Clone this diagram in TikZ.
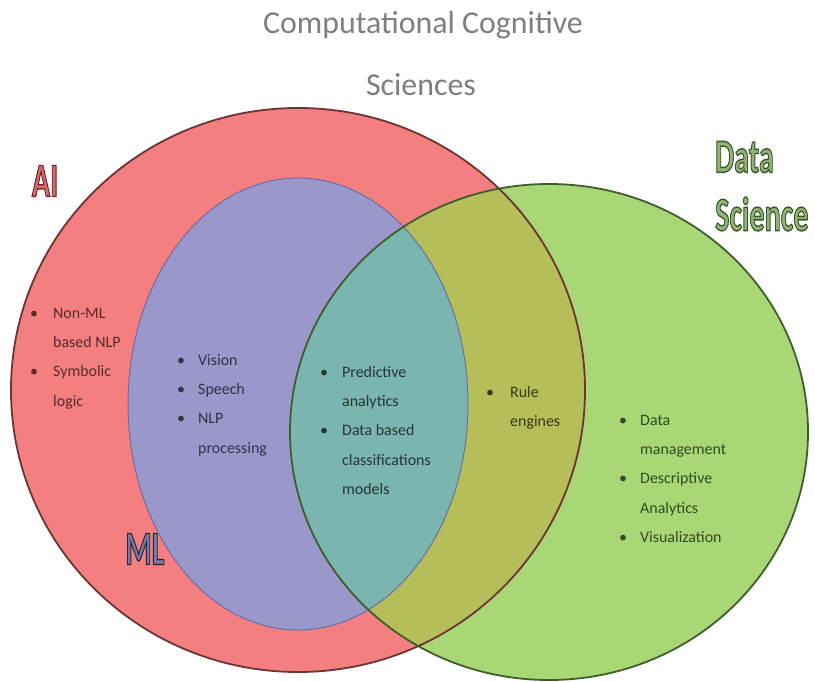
\documentclass[tikz,border=0pt]{standalone}
\usepackage{fontspec}
\usepackage{graphicx}
\setmainfont{Carlito}

% region colours
\definecolor{aired}{HTML}{F47F80}
\definecolor{mlpurple}{HTML}{9A97CB}
\definecolor{dsgreen}{HTML}{A9D775}
\definecolor{mixolive}{HTML}{B5BE58}
\definecolor{mixteal}{HTML}{7BB5AF}
\definecolor{airedline}{HTML}{6E3434}
\definecolor{mlline}{HTML}{6D6DA3}
\definecolor{dsline}{HTML}{3E5E2C}
\definecolor{titlegray}{HTML}{7F7F7F}

% outlined, condensed label text (fill = current colour, stroke = #1)
\newcommand{\outlinedlabel}[2]{\scalebox{0.63}[1]{\special{pdf:literal 2 Tr 1.4 w #1 RG}#2\special{pdf:literal 0 Tr}}}
% bulleted block: first line baseline sits at the node anchor
\newcommand{\bulletblock}[2]{\parbox[t]{6cm}{\raggedright\fontsize{16}{29.5}\selectfont\setlength{\parindent}{0pt}#2}}
\newcommand{\bul}[1]{\makebox[#1][l]{\textbullet}}

\begin{document}
\begin{tikzpicture}[x=1bp,y=-1bp,
  bigtitle/.style={font=\fontsize{32}{40}\selectfont, text=titlegray, inner sep=0},
  setlabel/.style={font=\fontsize{48}{57}\selectfont\bfseries, inner sep=0},
  itemtext/.style={anchor=base west, inner sep=0}]

\useasboundingbox (0,0) rectangle (815,682);
\fill[white] (0,0) rectangle (815,682);

% the three sets
\fill[aired] (298,390) ellipse [x radius=287bp, y radius=282bp];
\fill[mlpurple] (298,404) ellipse [x radius=170bp, y radius=226bp];
\fill[dsgreen] (549,432) ellipse [x radius=259bp, y radius=248bp];

% overlaps with Data Science
\begin{scope}
  \clip (549,432) ellipse [x radius=259bp, y radius=248bp];
  \fill[mixolive] (298,390) ellipse [x radius=287bp, y radius=282bp];
  \fill[mixteal] (298,404) ellipse [x radius=170bp, y radius=226bp];
\end{scope}

% outlines
\draw[mlline, line width=1bp] (298,404) ellipse [x radius=170bp, y radius=226bp];
\draw[airedline, line width=1.8bp] (298,390) ellipse [x radius=287bp, y radius=282bp];
\draw[dsline, line width=1.8bp] (549,432) ellipse [x radius=259bp, y radius=248bp];

% title
\node[bigtitle] (title1) at (423,25) {Computational Cognitive};
\node[bigtitle] (title2) at (421,85) {Sciences};

% set labels
\node[setlabel, text=aired!85!black] (ailabel) at (45,181) {\outlinedlabel{0.45 0.12 0.12}{AI}};
\node[setlabel, text=mlpurple!80!black, anchor=center] (mllabel) at (145,549) {\outlinedlabel{0.15 0.15 0.22}{ML}};
\node[setlabel, text=dsgreen!55!gray, anchor=west] (dslabel1) at (715,157) {\outlinedlabel{0.2 0.35 0.15}{Data}};
\node[setlabel, text=dsgreen!55!gray, anchor=west] (dslabel2) at (715,214) {\outlinedlabel{0.2 0.35 0.15}{Science}};

% bullet lists
\node[itemtext, text=airedline!80!black] (aiitems) at (30,318)
  {\bulletblock{}{\bul{23bp}Non-ML\\\hspace*{23bp}based NLP\\\bul{23bp}Symbolic\\\hspace*{23bp}logic}};
\node[itemtext, text=mlline!45!black] (mlitems) at (177,365)
  {\bulletblock{}{\bul{21bp}Vision\\\bul{21bp}Speech\\\bul{21bp}NLP\\\hspace*{21bp}processing}};
\node[itemtext, text=mixteal!30!black] (sharedtems) at (320,377)
  {\bulletblock{}{\bul{22bp}Predictive\\\hspace*{22bp}analytics\\\bul{22bp}Data based\\\hspace*{22bp}classifications\\\hspace*{22bp}models}};
\node[itemtext, text=mixolive!30!black] (ruleitems) at (486,397)
  {\bulletblock{}{\bul{24bp}Rule\\\hspace*{24bp}engines}};
\node[itemtext, text=dsline!80!black] (dsitems) at (619,425)
  {\bulletblock{}{\bul{21bp}Data\\\hspace*{21bp}management\\\bul{21bp}Descriptive\\\hspace*{21bp}Analytics\\\bul{21bp}Visualization}};
\end{tikzpicture}
\end{document}
